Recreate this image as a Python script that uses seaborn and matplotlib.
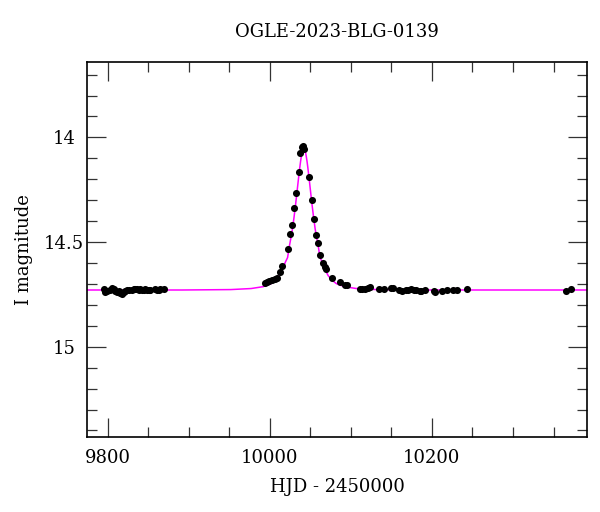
import numpy as np
import pandas as pd
import matplotlib
matplotlib.use("Agg")
import matplotlib.pyplot as plt
import seaborn as sns
from matplotlib.ticker import MultipleLocator

# OGLE photometry (HJD - 2450000, I mag)
hjd = [
    9795.1, 9796.3, 9799.2, 9802.5, 9805.3, 9807.4, 9809.5, 9811.5, 9813.6,
    9815.6, 9817.7, 9819.7, 9821.8, 9823.8, 9825.9, 9830.0, 9832.1, 9834.1,
    9836.2, 9838.2, 9840.3, 9842.3, 9844.4, 9846.4, 9848.5, 9850.6, 9852.6,
    9858.8, 9860.8, 9862.9, 9864.9, 9869.1,
    9993.6, 9996.5, 9999.3, 10002.6, 10005.9, 10008.8, 10012.1, 10015.0,
    10021.9, 10024.8, 10027.3, 10030.2, 10032.6, 10035.5, 10037.6, 10039.6,
    10040.9, 10042.5,
    10048.3, 10051.6, 10054.5, 10057.3, 10059.4, 10062.2, 10065.5, 10067.6,
    10069.2, 10076.6, 10086.1, 10093.1, 10095.1,
    10110.7, 10113.6, 10117.7, 10120.6, 10123.1, 10134.2, 10141.1, 10149.4,
    10152.6, 10160.0, 10162.9, 10168.3, 10171.1, 10174.0, 10177.3, 10180.6,
    10184.7, 10186.4, 10191.7, 10202.0, 10204.4, 10212.2, 10218.4, 10226.6,
    10230.7, 10243.1,
    10365.6, 10371.3,
]
imag = [
    14.726, 14.740, 14.732, 14.729, 14.720, 14.726, 14.735, 14.739, 14.732,
    14.745, 14.750, 14.740, 14.732, 14.727, 14.729, 14.729, 14.726, 14.724,
    14.723, 14.729, 14.726, 14.727, 14.731, 14.726, 14.727, 14.729, 14.727,
    14.726, 14.731, 14.729, 14.726, 14.724,
    14.697, 14.692, 14.688, 14.683, 14.678, 14.670, 14.642, 14.614,
    14.532, 14.463, 14.420, 14.337, 14.264, 14.166, 14.076, 14.048,
    14.043, 14.056,
    14.191, 14.298, 14.392, 14.466, 14.503, 14.562, 14.602, 14.618,
    14.627, 14.670, 14.692, 14.705, 14.707,
    14.724, 14.723, 14.723, 14.720, 14.713, 14.723, 14.724, 14.720,
    14.718, 14.729, 14.732, 14.729, 14.727, 14.726, 14.727, 14.727,
    14.734, 14.732, 14.727, 14.735, 14.737, 14.732, 14.729, 14.731,
    14.729, 14.723,
    14.732, 14.724,
]

# model curve
model_t = [9775, 9892, 9952, 9977, 9992, 10002, 10007, 10012, 10016, 10019,
           10022, 10024, 10026, 10028, 10030, 10032, 10033, 10034, 10035,
           10036, 10037, 10038, 10039, 10040, 10041, 10042,
           10043, 10044, 10045, 10046, 10047, 10048, 10049, 10050, 10051,
           10052, 10054, 10056, 10058, 10060, 10062, 10065, 10068, 10072,
           10077, 10082, 10092, 10107, 10132, 10192, 10392]
model_mag = [14.729, 14.729, 14.727, 14.722, 14.713, 14.698, 14.683, 14.660,
             14.629, 14.598, 14.574, 14.524, 14.482, 14.437, 14.380, 14.316,
             14.282, 14.247, 14.212, 14.178, 14.145, 14.115, 14.090, 14.068,
             14.052, 14.046,
             14.052, 14.068, 14.090, 14.115, 14.145, 14.178, 14.212, 14.247,
             14.282, 14.316, 14.380, 14.437, 14.482, 14.524, 14.574, 14.598,
             14.629, 14.660, 14.683, 14.698, 14.713, 14.722, 14.727, 14.729,
             14.729]

df = pd.DataFrame({"hjd": hjd, "imag": imag})
model = pd.DataFrame({"t": model_t, "mag": model_mag})

sns.set_style("ticks")
plt.rcParams["font.family"] = ["DejaVu Serif"]
plt.rcParams["text.color"] = "black"
plt.rcParams["axes.labelcolor"] = "black"
plt.rcParams["xtick.labelcolor"] = "black"
plt.rcParams["ytick.labelcolor"] = "black"

fig = plt.figure(figsize=(6, 5.12), dpi=100)
ax = fig.add_axes([0.1455, 0.147, 0.8325, 0.731])

sns.lineplot(data=model, x="t", y="mag", sort=False, color="#ff00ff",
             linewidth=1.1, ax=ax, zorder=2)
sns.scatterplot(data=df, x="hjd", y="imag", color="black", s=26,
                linewidth=0, ax=ax, zorder=3)

ax.set_xlim(9775, 10391)
ax.set_ylim(15.43, 13.642)

ax.xaxis.set_major_locator(MultipleLocator(200))
ax.xaxis.set_minor_locator(MultipleLocator(50))
ax.yaxis.set_minor_locator(MultipleLocator(0.1))
ax.set_yticks([14, 14.5, 15])
ax.set_yticklabels(["14", "14.5", "15"])

ax.tick_params(which="both", direction="in", top=True, right=True,
               color="#333333", width=0.9)
ax.tick_params(which="major", length=14, labelsize=13)
ax.tick_params(which="minor", length=7)
ax.tick_params(axis="x", which="major", pad=9)
ax.tick_params(axis="y", which="major", pad=17)
for lab in ax.get_yticklabels():
    lab.set_horizontalalignment("center")

for sp in ax.spines.values():
    sp.set_linewidth(1.2)
    sp.set_color("black")

ax.set_xlabel("HJD - 2450000", fontsize=13, labelpad=8)
ax.set_ylabel("I magnitude", fontsize=13, labelpad=8)
ax.set_title("OGLE-2023-BLG-0139", fontsize=13, pad=18)

fig.savefig("out.png", dpi=100)
